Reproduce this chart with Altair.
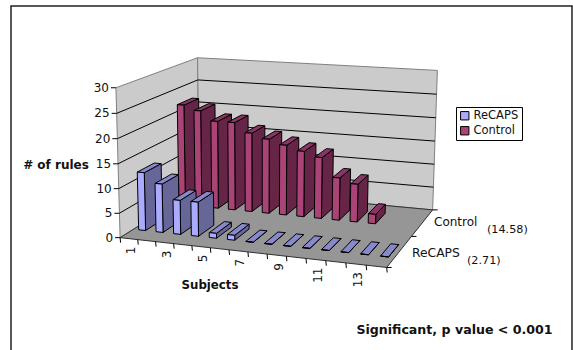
import altair as alt
import numpy as np
import pandas as pd

subjects = list(range(1, 15))
recaps = [12, 10, 7, 7, 1, 1, 0, 0, 0, 0, 0, 0, 0, 0]
control = [22, 21, 19, 19, 17, 16, 15, 14, 13, 9, 8, 2]
series_names = ["ReCAPS", "Control"]
value_ticks = [0, 5, 10, 15, 20, 25, 30]
category_ticks = [1, 3, 5, 7, 9, 11, 13]
series_means = {"Control": "(14.58)", "ReCAPS": "(2.71)"}

W, H = 573, 350
FONT = "DejaVu Sans"
WALL, FLOOR = "#cbcbcb", "#969696"
FACES = {
    "ReCAPS": {"front": "#aaaaff", "side": "#666699", "top": "#8888cc"},
    "Control": {"front": "#aa4477", "side": "#662447", "top": "#8a3566"},
}

# Oblique camera of the 3-D box, solved from where its corners sit on the page.
# Box coordinates: u along subjects, d front-to-back, v up the value axis.
corners = [
    ((0, 0, 0), (121, 236)), ((0, 0, 1), (115, 88)),
    ((0, 1, 0), (198, 190)), ((0, 1, 1), (198.7, 57)),
    ((1, 0, 0), (386.7, 269)), ((1, 1, 0), (433, 208)),
    ((1, 1, 1), (437, 71)),
]
A, b = [], []
for (u, d, v), (px, py) in corners:
    A.append([u, d, v, 1, 0, 0, 0, 0, -px * u, -px * d, -px * v])
    b.append(px)
    A.append([0, 0, 0, 0, u, d, v, 1, -py * u, -py * d, -py * v])
    b.append(py)
cam = np.append(np.linalg.lstsq(np.array(A, float), np.array(b, float), rcond=None)[0], 1).reshape(3, 4)


def project(u, d, v):
    p = cam @ np.array([u, d, v, 1.0])
    return float(p[0] / p[2]), float(p[1] / p[2])


def at(subject_pos, d, value):
    return project(subject_pos / len(subjects), d, value / 30)


rows_back, rows_grid, rows_floor, rows_bars = [], [], [], []
poly_id = 0


def add(rows, pts, fill="none", stroke="#000000", close=True):
    global poly_id
    poly_id += 1
    seq = list(pts) + ([pts[0]] if close else [])
    for i, (x, y) in enumerate(seq):
        rows.append({"poly": poly_id, "idx": i, "x": x, "y": y, "fill": fill, "stroke": stroke})


# Walls, value gridlines and floor
add(rows_back, [project(0, 0, 0), project(0, 0, 1), project(0, 1, 1), project(0, 1, 0)], WALL, "#808080")
add(rows_back, [project(0, 1, 0), project(0, 1, 1), project(1, 1, 1), project(1, 1, 0)], WALL, "#808080")
for t in value_ticks[1:-1]:
    v = t / 30
    add(rows_grid, [project(0, 0, v), project(0, 1, v), project(1, 1, v)], close=False)
add(rows_floor, [project(0, 0, 0), project(0, 1, 0), project(1, 1, 0), project(1, 0, 0)], FLOOR, "#303030")


# Each subject/series cell holds one box with a 150% gap on every side
def bar(rows, name, i, value, row):
    gap = 0.3
    u0, u1 = i + gap, i + 1 - gap
    d0, d1 = (row + gap) / 2, (row + 1 - gap) / 2
    c = FACES[name]
    add(rows, [at(u1, d0, 0), at(u1, d1, 0), at(u1, d1, value), at(u1, d0, value)], c["side"])
    add(rows, [at(u0, d0, value), at(u1, d0, value), at(u1, d1, value), at(u0, d1, value)], c["top"])
    add(rows, [at(u0, d0, 0), at(u1, d0, 0), at(u1, d0, value), at(u0, d0, value)], c["front"])


for i, value in enumerate(control):
    bar(rows_bars, "Control", i, value, 1)
for i, value in enumerate(recaps):
    bar(rows_bars, "ReCAPS", i, value, 0)

# Axis tick marks
rows_ticks = []
for t in value_ticks:
    x, y = at(0, 0, t)
    add(rows_ticks, [(x - 5, y), (x, y)], close=False)
for i in range(len(subjects) + 1):
    x, y = at(i, 0, 0)
    add(rows_ticks, [(x, y), (x + 0.5, y + 5)], close=False)
for d in (0, 0.5, 1):
    x, y = project(1, d, 0)
    add(rows_ticks, [(x, y), (x + 5, y)], close=False)

# Text
labels = []


def label(x, y, text, size=11.5, angle=0, align="center", weight="normal"):
    labels.append({"x": x, "y": y, "text": text, "size": size, "angle": angle, "align": align, "weight": weight})


for t in value_ticks:
    x, y = at(0, 0, t)
    label(x - 7, y, str(t), 12, align="right")
for s in category_ticks:
    x, y = at(s - 0.5, 0, 0)
    label(x + 2, y + 8, str(s), 12, angle=270, align="right")
label(434, 222, "Control", 12, align="left")
label(487, 230, series_means["Control"], 11.2, align="left")
label(412, 253, "ReCAPS", 12.3, align="left")
label(467, 261, series_means["ReCAPS"], 11.2, align="left")
label(56, 165, "# of rules", 12, weight="bold")
label(210, 285, "Subjects", 11.8, weight="bold")
label(454.5, 330, "Significant, p value < 0.001", 12.6, weight="bold")

x_enc = alt.X("x:Q", scale=alt.Scale(domain=[0, W], range=[0, W]), axis=None)
y_enc = alt.Y("y:Q", scale=alt.Scale(domain=[0, H], range=[0, H]), axis=None)


def polys(rows, width=1.0):
    return alt.Chart(pd.DataFrame(rows)).mark_line(strokeWidth=width, strokeJoin="miter", clip=False).encode(
        x=x_enc, y=y_enc, detail="poly:N", order="idx:Q",
        fill=alt.Fill("fill:N", scale=None), stroke=alt.Stroke("stroke:N", scale=None),
    )


def lines(rows, width=1.0):
    return alt.Chart(pd.DataFrame(rows)).mark_line(strokeWidth=width, clip=False).encode(
        x=x_enc, y=y_enc, detail="poly:N", order="idx:Q", stroke=alt.Stroke("stroke:N", scale=None),
    )


def text_by_align(frame, weight):
    out = []
    for al in frame["align"].unique():
        out.append(
            alt.Chart(frame[frame["align"] == al])
            .mark_text(font=FONT, fontWeight=weight, align=al, baseline="middle", color="#111111")
            .encode(x=x_enc, y=y_enc, text="text:N",
                    size=alt.Size("size:Q", scale=None, legend=None),
                    angle=alt.Angle("angle:Q", scale=None))
        )
    return out


# Frame around the figure, open along the bottom edge
frame_rows = []
add(frame_rows, [(11, H), (11, 6), (572, 6), (572, H)], stroke="#222222", close=False)

legend_layer = alt.Chart(pd.DataFrame({"series": series_names, "x": [-50, -50], "y": [-50, -50]})).mark_square(
    opacity=0, clip=True
).encode(
    x=x_enc, y=y_enc,
    color=alt.Color(
        "series:N",
        scale=alt.Scale(domain=series_names, range=[FACES[n]["front"] for n in series_names]),
        legend=alt.Legend(
            title=None, orient="none", legendX=456, legendY=107,
            fillColor="white", strokeColor="black", padding=3,
            symbolType="square", symbolSize=70, symbolOpacity=1,
            symbolStrokeColor="black", symbolStrokeWidth=1,
            labelFont=FONT, labelFontSize=11.5, labelColor="#111111", labelOffset=3,
            rowPadding=2,
        ),
    ),
)

tf = pd.DataFrame(labels)
layers = [
    lines(frame_rows, 1.5),
    polys(rows_back),
    lines(rows_grid),
    polys(rows_floor),
    polys(rows_bars),
    lines(rows_ticks),
    *text_by_align(tf[tf.weight == "normal"], "normal"),
    *text_by_align(tf[tf.weight == "bold"], "bold"),
    legend_layer,
]

chart = (
    alt.layer(*layers)
    .properties(width=W, height=H, padding=0, autosize="none", background="white")
    .configure_view(stroke=None)
)

chart.save("out.html", embed_options={"renderer": "svg", "actions": False})
